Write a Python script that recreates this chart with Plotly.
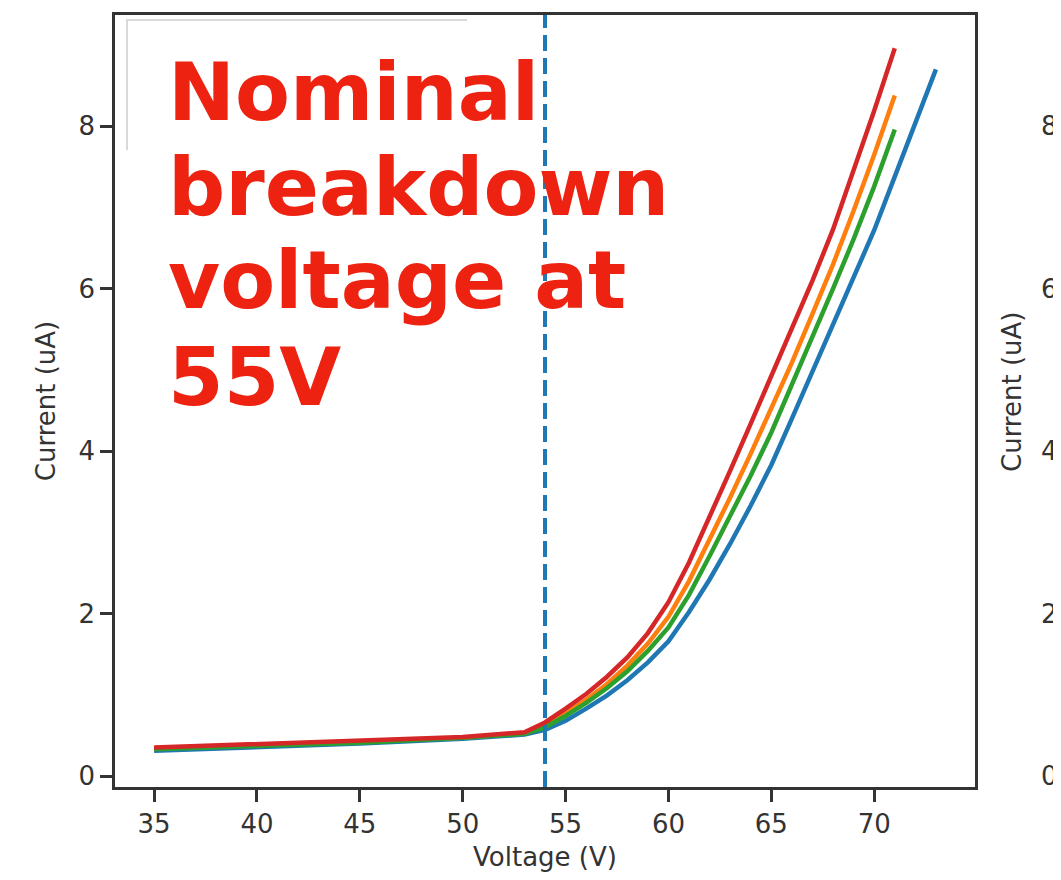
import plotly.graph_objects as go

# ---- data ----
voltage = [35, 40, 45, 50, 53, 54, 55, 56, 57, 58, 59, 60, 61, 62, 63, 64, 65, 66, 67, 68, 69, 70, 71]
voltage_blue = voltage + [72, 73]
current_blue = [0.31, 0.35, 0.40, 0.46, 0.51, 0.57, 0.68, 0.83, 0.99, 1.18, 1.40, 1.66, 2.02,
                2.42, 2.86, 3.33, 3.83, 4.40, 4.98, 5.56, 6.13, 6.72, 7.38, 8.04, 8.70]
current_orange = [0.34, 0.38, 0.42, 0.47, 0.53, 0.63, 0.77, 0.94, 1.13, 1.36, 1.63, 1.96, 2.40,
                  2.91, 3.43, 3.97, 4.52, 5.09, 5.69, 6.30, 6.96, 7.65, 8.38]
current_green = [0.33, 0.37, 0.41, 0.47, 0.52, 0.60, 0.74, 0.90, 1.08, 1.29, 1.54, 1.83, 2.23,
                 2.71, 3.20, 3.70, 4.23, 4.81, 5.39, 6.00, 6.61, 7.26, 7.96]
current_red = [0.35, 0.39, 0.43, 0.48, 0.54, 0.66, 0.83, 1.01, 1.22, 1.46, 1.76, 2.14, 2.63,
               3.18, 3.76, 4.34, 4.92, 5.50, 6.10, 6.73, 7.44, 8.19, 8.96]
breakdown_v = 54
x_ticks = [35, 40, 45, 50, 55, 60, 65, 70]
y_ticks = [0, 2, 4, 6, 8]
note_lines = ["Nominal", "breakdown", "voltage at", "55V"]

# ---- layout geometry (page pixels; page body has an 8px margin) ----
OFF = 8
W, H = 1061 - OFF, 880 - 2 * OFF
L, R, T, B = 115, 975, 15, 787  # plot area in page pixels
pw, ph = R - L, B - T


def px(xp):
    return (xp - L) / pw


def py(yp):
    return (B - yp) / ph


series = [
    (voltage_blue, current_blue, "#1f77b4"),
    (voltage, current_orange, "#ff7f0e"),
    (voltage, current_green, "#2ca02c"),
    (voltage, current_red, "#d62728"),
]

fig = go.Figure()
for xs, ys, col in series:
    fig.add_trace(go.Scatter(x=xs, y=ys, mode="lines",
                             line=dict(color=col, width=4.5),
                             showlegend=False, hoverinfo="skip"))

shapes = [
    dict(type="line", xref="x", yref="y domain", x0=breakdown_v, x1=breakdown_v,
         y0=0, y1=1, line=dict(color="#1f77b4", width=4, dash="16px,7px"), layer="above"),
    # partially hidden legend frame
    dict(type="path", xref="paper", yref="paper",
         path=f"M {px(127)},{py(150)} L {px(127)},{py(20)} L {px(467)},{py(20)}",
         line=dict(color="#d9d9d9", width=2), layer="below"),
]

tick_font = dict(family="DejaVu Sans", size=26, color="#333333")

annotations = []
centers = [92, 187, 280, 377]
for txt, yc in zip(note_lines, centers):
    annotations.append(dict(text=f"<b>{txt}</b>", xref="paper", yref="paper",
                            x=px(166), y=py(yc), xanchor="left", yanchor="middle",
                            showarrow=False,
                            font=dict(family="DejaVu Sans", size=80, color="#ee2211")))

# neighbouring subplot's axis labels (partially visible at right edge)
for v in y_ticks:
    annotations.append(dict(text=str(v), xref="paper", yref="y", x=px(1049), y=v,
                            xanchor="center", yanchor="middle", showarrow=False,
                            font=tick_font))
annotations.append(dict(text="Current (uA)", xref="paper", yref="paper",
                        x=px(1012), y=py(392), textangle=-90, xanchor="center",
                        yanchor="middle", showarrow=False, font=tick_font))

axis_common = dict(showline=True, linecolor="#333333", linewidth=2.5, mirror=True,
                   ticks="outside", ticklen=12, tickwidth=2.5, tickcolor="#333333",
                   showgrid=False, zeroline=False, tickfont=tick_font)

fig.update_layout(
    width=W, height=H,
    margin=dict(l=L - OFF, r=(OFF + W) - R, t=T - OFF, b=(OFF + H) - B, autoexpand=False),
    paper_bgcolor="white", plot_bgcolor="white",
    xaxis=dict(range=[33.1, 74.9], tickvals=x_ticks,
               title=dict(text="Voltage (V)", font=tick_font, standoff=16),
               **axis_common),
    yaxis=dict(range=[-0.135, 9.37], tickvals=y_ticks,
               title=dict(text="Current (uA)", font=tick_font, standoff=16),
               **axis_common),
    shapes=shapes,
    annotations=annotations,
)

fig.write_html("out.html")
